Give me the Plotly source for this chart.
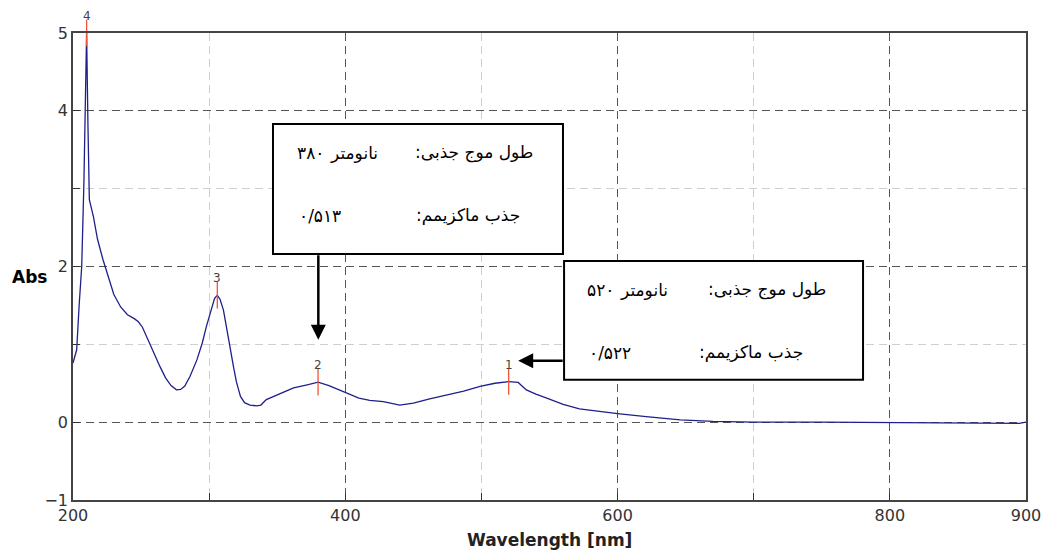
import plotly.graph_objects as go

# ---- data ----
wavelength = [200, 202.7, 204.5, 206.4, 208, 209, 210, 211, 212, 215, 218, 222, 226, 230,
              235, 240, 245, 248, 251, 254, 259, 264, 268, 272, 276, 279, 282, 286, 291,
              295, 298, 301, 304, 306, 308, 310.5, 313, 315.5, 318, 320, 323, 326, 330,
              335, 338, 342, 350, 362, 372, 380, 388, 395, 401, 410, 418, 428, 440, 450,
              462, 475, 487, 499, 510, 520, 527, 533, 540, 548, 560, 572, 585, 600, 621,
              646, 670, 700, 750, 800, 840, 880, 895, 900]
absorbance = [0.76, 0.93, 1.5, 2.0, 3.07, 4.4, 5.0, 3.8, 2.86, 2.64, 2.35, 2.09, 1.85, 1.64,
              1.48, 1.38, 1.33, 1.29, 1.22, 1.10, 0.90, 0.71, 0.57, 0.47, 0.415, 0.42, 0.46,
              0.59, 0.80, 1.02, 1.23, 1.42, 1.59, 1.63, 1.58, 1.44, 1.18, 0.93, 0.70, 0.52,
              0.33, 0.25, 0.22, 0.21, 0.22, 0.29, 0.35, 0.44, 0.48, 0.513, 0.47, 0.42, 0.37,
              0.31, 0.28, 0.265, 0.22, 0.245, 0.30, 0.35, 0.40, 0.46, 0.50, 0.522, 0.51,
              0.415, 0.36, 0.31, 0.23, 0.17, 0.14, 0.11, 0.07, 0.03, 0.01, 0.0, 0.0, -0.005,
              -0.01, -0.015, -0.015, 0.0]

peak_wl = [520, 380, 306, 210]
peak_abs = [0.522, 0.513, 1.63, 5.0]
peak_labels = ["1", "2", "3", "4"]

x_tickvals = [200, 400, 600, 800, 900]
x_minor = [300, 500, 700]
y_tickvals = [-1, 0, 2, 4, 5]
y_minor = [1, 3]

RLM = "\u200f"
label_wl = "طول موج جذبی:" + RLM
label_max = "جذب ماکزیمم:" + RLM
unit_nm = "نانومتر"
box1_wl = "۳۸۰"
box1_abs = "۰/۵۱۳"
box2_wl = "۵۲۰"
box2_abs = "۰/۵۲۲"

fig = go.Figure()
fig.add_trace(go.Scatter(x=wavelength, y=absorbance, mode="lines",
                         line=dict(color="#1f1f8c", width=1.3), hoverinfo="skip"))
fig.add_trace(go.Scatter(x=peak_wl, y=peak_abs, mode="markers",
                         marker=dict(symbol="line-ns-open", size=19,
                                     line=dict(color="#ff1a1a", width=1.3)),
                         cliponaxis=False, hoverinfo="skip"))
for xw, ya, lab in zip(peak_wl, peak_abs, peak_labels):
    fig.add_annotation(x=xw, y=ya, xref="x", yref="y", text=lab, showarrow=False,
                       yshift=17, xanchor="center", yanchor="middle",
                       font=dict(family="DejaVu Sans", size=12, color="#444"))

grid_major = "#555555"
grid_minor = "#cfcfcf"
axis_common = dict(showline=True, mirror=True, linecolor="#444", linewidth=1.5,
                   ticks="inside", ticklen=7, tickcolor="#333", tickwidth=1.2,
                   showgrid=True, gridcolor=grid_major, griddash="8px,5px", gridwidth=1.2,
                   zeroline=False, automargin=False,
                   tickfont=dict(family="DejaVu Sans", size=16, color="#333"))

fig.update_xaxes(range=[200, 900], tickmode="array", tickvals=x_tickvals,
                 minor=dict(tickmode="array", tickvals=x_minor, ticks="inside", ticklen=7,
                            tickcolor="#333", showgrid=True, gridcolor=grid_minor,
                            griddash="8px,5px", gridwidth=1.2),
                 **axis_common)
fig.update_yaxes(range=[-1, 5], tickmode="array", tickvals=y_tickvals,
                 minor=dict(tickmode="array", tickvals=y_minor, ticks="inside", ticklen=7,
                            tickcolor="#333", showgrid=True, gridcolor=grid_minor,
                            griddash="8px,5px", gridwidth=1.2),
                 **axis_common)

# annotation boxes
fig.add_shape(type="rect", xref="x", yref="y", x0=346.9, x1=559.9, y0=2.16, y1=3.83,
              fillcolor="white", line=dict(color="black", width=2), layer="above")
fig.add_shape(type="rect", xref="x", yref="y", x0=560.7, x1=780.3, y0=0.544, y1=2.07,
              fillcolor="white", line=dict(color="black", width=2), layer="above")

pfont = dict(family="DejaVu Sans", size=17, color="black")
texts = [
    (539.4, 3.46, label_wl, "right"),
    (425.5, 3.46, unit_nm, "right"),
    (363.0, 3.46, box1_wl, "left"),
    (529.8, 2.65, label_max, "right"),
    (364.5, 2.65, box1_abs, "left"),
    (754.6, 1.70, label_wl, "right"),
    (638.5, 1.70, unit_nm, "right"),
    (576.0, 1.70, box2_wl, "left"),
    (737.7, 0.89, label_max, "right"),
    (577.5, 0.89, box2_abs, "left"),
]
for x, y, t, anc in texts:
    fig.add_annotation(x=x, y=y, xref="x", yref="y", text=t, showarrow=False,
                       xanchor=anc, yanchor="middle", font=pfont)

# arrows
fig.add_annotation(x=380.2, y=1.06, xref="x", yref="y", text="", showarrow=True,
                   ax=0, ay=-86, arrowhead=2, arrowsize=1.2, arrowwidth=2.5,
                   arrowcolor="black")
fig.add_annotation(x=527, y=0.79, xref="x", yref="y", text="", showarrow=True,
                   ax=46, ay=0, arrowhead=2, arrowsize=1.2, arrowwidth=2.5,
                   arrowcolor="black")

# axis titles
fig.add_annotation(x=-0.046, y=1.86, xref="paper", yref="y", text="<b>Abs</b>",
                   showarrow=False, xanchor="center", yanchor="middle",
                   font=dict(family="DejaVu Sans", size=17, color="black"))
fig.add_annotation(x=0.5, y=-0.0857, xref="paper", yref="paper",
                   text="<b>Wavelength [nm]</b>", showarrow=False,
                   xanchor="center", yanchor="middle",
                   font=dict(family="DejaVu Sans", size=17, color="#222"))

fig.update_layout(width=1043, height=551, showlegend=False,
                  margin=dict(l=73, r=17, t=33, b=51),
                  paper_bgcolor="white", plot_bgcolor="white")

fig.write_html("out.html", config={"displayModeBar": False},
               post_script="document.body.style.margin='0';document.body.style.overflow='hidden';")
